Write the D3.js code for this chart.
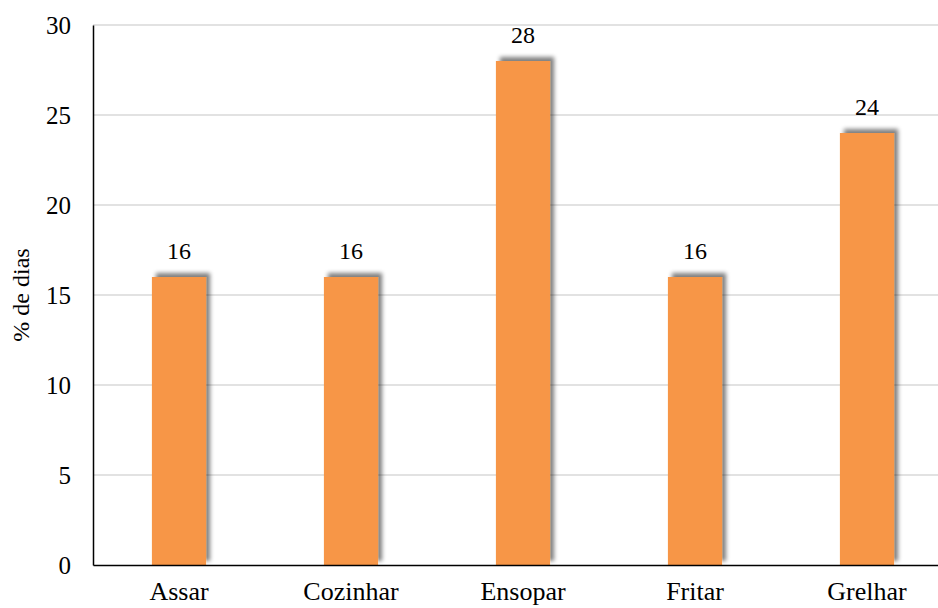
<!DOCTYPE html>
<html><head><meta charset="utf-8">
<script src="https://cdn.jsdelivr.net/npm/d3@7"></script>
<style>body{margin:0;background:#fff}svg{display:block}</style>
</head><body>
<svg id="c" width="938" height="608"></svg>
<script>
const categories = ["Assar","Cozinhar","Ensopar","Fritar","Grelhar"];
const values = [16,16,28,16,24];
const yTicks = [0,5,10,15,20,25,30];

(function(){
const svg = d3.select("#c");
const mLeft = 93, mTop = 25, mBottom = 565, step = 172;
const FONT = "'Liberation Serif', 'Times New Roman', serif";
const x = d3.scaleBand().domain(categories).range([mLeft, mLeft + step*categories.length]).paddingInner(0.685).paddingOuter(0.3425);
const y = d3.scaleLinear().domain([0,30]).range([mBottom, mTop]);

const defs = svg.append("defs");
const f = defs.append("filter").attr("id","sh").attr("x","-20%").attr("y","-20%").attr("width","140%").attr("height","140%");
f.append("feGaussianBlur").attr("in","SourceAlpha").attr("stdDeviation",2).attr("result","b");
f.append("feOffset").attr("in","b").attr("dx",4).attr("dy",-4).attr("result","o");
f.append("feComponentTransfer").attr("in","o").attr("result","o2").append("feFuncA").attr("type","linear").attr("slope",0.5);
const m = f.append("feMerge");
m.append("feMergeNode").attr("in","o2");
m.append("feMergeNode").attr("in","SourceGraphic");

// gridlines
svg.append("g").selectAll("line").data(yTicks.filter(d=>d>0)).join("line")
  .attr("x1", mLeft).attr("x2", 938).attr("y1", d=>y(d)).attr("y2", d=>y(d))
  .attr("stroke","#d9d9d9").attr("stroke-width",1.3);

// bars
svg.append("g").selectAll("rect").data(values).join("rect")
  .attr("x",(d,i)=>x(categories[i])).attr("width",x.bandwidth())
  .attr("y",d=>y(d)).attr("height",d=>y(0)-y(d))
  .attr("fill","#F79646").attr("filter","url(#sh)");

// value labels
svg.append("g").selectAll("text").data(values).join("text")
  .attr("x",(d,i)=>x(categories[i])+x.bandwidth()/2).attr("y",d=>y(d)-18)
  .attr("text-anchor","middle").style("font-family",FONT)
  .style("font-size","24px").attr("fill","#000").text(d=>d);

// axes
const yAxis = d3.axisLeft(y).tickValues(yTicks).tickSize(0).tickPadding(22);
const gy = svg.append("g").attr("transform",`translate(${mLeft},0)`).call(yAxis);
gy.select(".domain").attr("stroke","#000").attr("stroke-width",1.5);
gy.selectAll("text").style("font-family",FONT).style("font-size","25px").attr("fill","#000");

const xAxis = d3.axisBottom(x).tickSize(0).tickPadding(17);
const gx = svg.append("g").attr("transform",`translate(0,${mBottom})`).call(xAxis);
gx.select(".domain").attr("stroke","#000").attr("stroke-width",1.5);
gx.selectAll("text").style("font-family",FONT).style("font-size","26px").attr("fill","#000");

// y label
svg.append("text").attr("transform",`translate(29,${(mTop+mBottom)/2}) rotate(-90)`)
  .attr("text-anchor","middle").style("font-family",FONT)
  .style("font-size","24px").attr("fill","#000").text("% de dias");
})();
</script>
</body></html>
